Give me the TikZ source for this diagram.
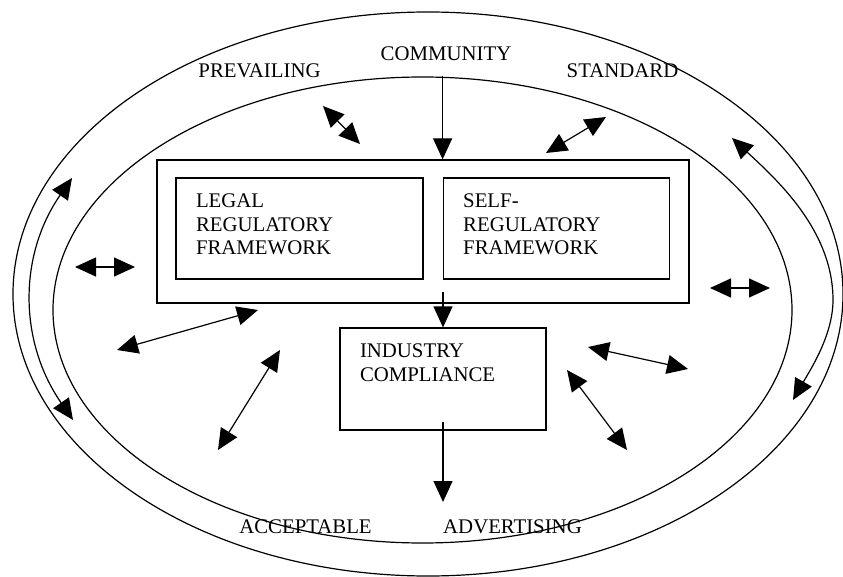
\documentclass[tikz,border=0pt]{standalone}
\usepackage{fontspec}
\setmainfont{Liberation Serif}
\usetikzlibrary{shapes}
\usetikzlibrary{arrows.meta}
\usetikzlibrary{positioning}

\tikzset{
    ring/.style={ellipse, draw, inner sep=0pt},
    box/.style={rectangle, draw, inner xsep=20pt, inner ysep=16pt},
    tip/.style={-{Triangle[length=21pt,width=19pt]}},
    both/.style={{Triangle[length=21pt,width=19pt]}-{Triangle[length=21pt,width=19pt]}}
}

\begin{document}
\begin{tikzpicture}
                [x=1pt, y=-1pt, line width=1.2pt,
                 every node/.style={font=\fontsize{20.8}{23.5}\selectfont}]
                \useasboundingbox (0,0) rectangle (843,577);
                \node[ring, minimum width=830pt, minimum height=564pt] (outer) at (428,294) { };
                \node[ring, minimum width=739pt, minimum height=466pt] (inner) at (422.5,310) { };
                \node (community) at (446,54) {COMMUNITY};
                \node (prevailing) at (259.5,71) {PREVAILING};
                \node (standard) at (622.5,71) {STANDARD};
                \node (acceptable) at (305.5,527) {ACCEPTABLE};
                \node (advertising) at (512.5,527) {ADVERTISING};
                \node[draw, minimum width=532pt, minimum height=143pt] (frame) at (423,231.5) { };
                \node[box] (legal) at (299.5,228.5) {\parbox[c][69pt][t]{207pt}{LEGAL\\REGULATORY\\FRAMEWORK}};
                \node[box, right=19pt of legal] (self) {\parbox[c][69pt][t]{186pt}{SELF-\\REGULATORY\\FRAMEWORK}};
                \node[box] (industry) at (443,379) {\parbox[c][70pt][t]{166pt}{INDUSTRY\\COMPLIANCE}};
                \coordinate (midtop) at (443,292);
                \coordinate (adtop) at (443,422);
                \coordinate (adtip) at (443,502);
                \coordinate (pvA) at (323,106);
                \coordinate (pvB) at (360,144);
                \coordinate (stA) at (546,153);
                \coordinate (stB) at (606,117);
                \coordinate (lhA) at (75,267);
                \coordinate (lhB) at (135,267);
                \coordinate (rhA) at (710,288);
                \coordinate (rhB) at (770,288);
                \coordinate (llA) at (117,350);
                \coordinate (llB) at (258,310);
                \coordinate (lmA) at (218,450);
                \coordinate (lmB) at (280,350);
                \coordinate (rrA) at (588,347);
                \coordinate (rrB) at (688,369);
                \coordinate (rmA) at (567,370);
                \coordinate (rmB) at (627,450);
                \coordinate (laTop) at (72,178);
                \coordinate (laBot) at (73,420);
                \coordinate (raTop) at (732,138);
                \coordinate (raMid) at (833,300);
                \coordinate (raBot) at (793,400);
                \draw[tip] (inner.north -| self.west) -- (frame.north -| self.west);
                \draw[tip] (midtop) -- (industry.north);
                \draw[tip] (adtop) -- (adtip);
                \draw[both] (pvA) -- (pvB);
                \draw[both] (stA) -- (stB);
                \draw[both] (lhA) -- (lhB);
                \draw[both] (rhA) -- (rhB);
                \draw[both] (llA) -- (llB);
                \draw[both] (lmA) -- (lmB);
                \draw[both] (rrA) -- (rrB);
                \draw[both] (rmA) -- (rmB);
                \draw[both] (laTop) .. controls (18,256) and (19,342) .. (laBot);
                \draw[both] (raTop) .. controls (776,179) and (833,230) .. (raMid)
                                    .. controls (833,335) and (810.5,369.5) .. (raBot);
            \end{tikzpicture}
\end{document}
